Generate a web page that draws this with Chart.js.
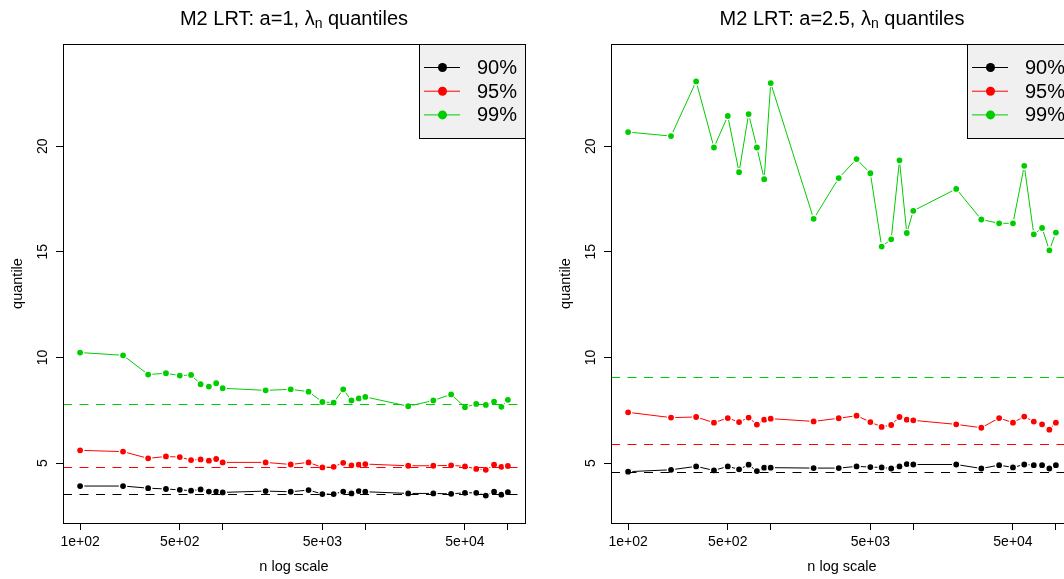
<!DOCTYPE html>
<html>
<head>
<meta charset="utf-8">
<script src="https://cdn.jsdelivr.net/npm/chart.js@4.4.0/dist/chart.umd.min.js"></script>
<style>
  html, body { margin: 0; padding: 0; width: 1064px; height: 579px; overflow: hidden; background: #fff; }
  .panel { position: absolute; top: 0; width: 548px; height: 579px; }
</style>
</head>
<body>
<div class="panel" style="left:0"><canvas id="c1" width="548" height="579"></canvas></div>
<div class="panel" style="left:548px"><canvas id="c2" width="548" height="579"></canvas></div>
<script>
// Sample sizes (log x axis)
const nValues = [100, 200, 300, 400, 500, 600, 700, 800, 900, 1000,
                 2000, 3000, 4000, 5000, 6000, 7000, 8000, 9000, 10000,
                 20000, 30000, 40000, 50000, 60000, 70000, 80000, 90000, 100000];

// a = 1: empirical quantiles of lambda_n
const q90_a1 = [3.91, 3.91, 3.81, 3.77, 3.73, 3.69, 3.75, 3.65, 3.65, 3.61,
                3.67, 3.64, 3.72, 3.53, 3.53, 3.65, 3.56, 3.67, 3.64,
                3.56, 3.56, 3.54, 3.59, 3.59, 3.46, 3.64, 3.50, 3.62];
const q95_a1 = [5.60, 5.54, 5.22, 5.31, 5.28, 5.14, 5.17, 5.11, 5.19, 5.03,
                5.03, 4.93, 5.03, 4.79, 4.82, 5.01, 4.89, 4.92, 4.95,
                4.87, 4.87, 4.89, 4.84, 4.72, 4.68, 4.92, 4.82, 4.86];
const q99_a1 = [10.23, 10.10, 9.19, 9.25, 9.14, 9.17, 8.73, 8.62, 8.78, 8.54,
                8.44, 8.49, 8.38, 7.89, 7.86, 8.49, 7.96, 8.06, 8.13,
                7.69, 7.96, 8.25, 7.64, 7.80, 7.75, 7.91, 7.66, 7.99];

// a = 2.5: empirical quantiles of lambda_n
const q90_a25 = [4.59, 4.68, 4.84, 4.65, 4.84, 4.70, 4.92, 4.62, 4.78, 4.78,
                 4.76, 4.76, 4.84, 4.81, 4.79, 4.74, 4.84, 4.95, 4.93,
                 4.93, 4.74, 4.90, 4.79, 4.93, 4.90, 4.90, 4.74, 4.90];
const q95_a25 = [7.40, 7.15, 7.18, 6.91, 7.13, 6.94, 7.15, 6.82, 7.05, 7.10,
                 6.97, 7.12, 7.24, 6.94, 6.71, 6.80, 7.18, 7.05, 7.02,
                 6.83, 6.67, 7.13, 6.91, 7.20, 6.96, 6.83, 6.58, 6.91];
const q99_a25 = [20.67, 20.48, 23.07, 19.94, 21.43, 18.77, 21.52, 19.94, 18.44, 22.99,
                 16.56, 18.49, 19.39, 18.72, 15.25, 15.59, 19.33, 15.89, 16.94,
                 17.98, 16.53, 16.35, 16.35, 19.07, 15.83, 16.13, 15.07, 15.91];

// Asymptotic reference quantiles (dashed lines): 90%, 95%, 99%
const ref_a1 = [3.54, 4.79, 7.81];
const ref_a25 = [4.59, 5.92, 9.05];

// Axis ticks and labels
const xTickValues = [100, 500, 1000, 5000, 10000, 50000, 100000];
const xTickLabels = ['1e+02', '5e+02', '', '5e+03', '', '5e+04', ''];
const yTickValues = [5, 10, 15, 20];
const seriesLabels = ['90%', '95%', '99%'];
const seriesColors = ['#000000', '#ff0000', '#00cd00'];

const FONT = "'Liberation Sans', Arial, Helvetica, sans-serif";

function decorPlugin(titleHead, refs) {
  return {
    id: 'decor',
    afterDatasetsDraw(chart) {
      const { ctx, chartArea: a, scales: { y } } = chart;
      ctx.save();
      ctx.beginPath();
      ctx.rect(a.left, a.top, a.right - a.left, a.bottom - a.top);
      ctx.clip();
      ctx.setLineDash([9, 7.5]);
      ctx.lineWidth = 1.2;
      refs.forEach((v, i) => {
        const py = Math.round(y.getPixelForValue(v)) + 0.5;
        ctx.strokeStyle = seriesColors[i];
        ctx.beginPath();
        ctx.moveTo(a.left, py);
        ctx.lineTo(a.right, py);
        ctx.stroke();
      });
      ctx.restore();
    },
    afterDraw(chart) {
      const { ctx, chartArea: a, scales: { y } } = chart;
      ctx.save();
      // plot frame
      ctx.strokeStyle = '#000';
      ctx.lineWidth = 1;
      ctx.strokeRect(a.left + 0.5, a.top + 0.5, a.right - a.left, a.bottom - a.top);

      // y tick labels, parallel to the axis
      ctx.fillStyle = '#000';
      ctx.font = '14px ' + FONT;
      ctx.textAlign = 'center';
      ctx.textBaseline = 'middle';
      yTickValues.forEach(v => {
        ctx.save();
        ctx.translate(a.left - 20, y.getPixelForValue(v));
        ctx.rotate(-Math.PI / 2);
        ctx.fillText(String(v), 0, 0);
        ctx.restore();
      });

      // axis titles
      ctx.font = '14.5px ' + FONT;
      ctx.save();
      ctx.translate(18, (a.top + a.bottom) / 2);
      ctx.rotate(-Math.PI / 2);
      ctx.fillText('quantile', 0, 0);
      ctx.restore();
      ctx.fillText('n log scale', (a.left + a.right) / 2, 567);

      // main title with subscript n
      const big = '20px ' + FONT, small = '14px ' + FONT;
      ctx.font = big;
      const w1 = ctx.measureText(titleHead).width;
      const w3 = ctx.measureText(' quantiles').width;
      ctx.font = small;
      const w2 = ctx.measureText('n').width;
      let tx = (a.left + a.right) / 2 - (w1 + w2 + w3) / 2;
      const ty = 25;
      ctx.textAlign = 'left';
      ctx.textBaseline = 'alphabetic';
      ctx.font = big;
      ctx.fillText(titleHead, tx, ty);
      tx += w1;
      ctx.font = small;
      ctx.fillText('n', tx, ty + 3);
      tx += w2;
      ctx.font = big;
      ctx.fillText(' quantiles', tx, ty);

      // legend
      const lw = 106, lh = 94;
      const lx = a.right - lw, ly = a.top;
      ctx.fillStyle = '#f0f0f0';
      ctx.fillRect(lx, ly, lw, lh);
      ctx.strokeStyle = '#000';
      ctx.strokeRect(lx + 0.5, ly + 0.5, lw, lh);
      ctx.font = '20px ' + FONT;
      ctx.textBaseline = 'middle';
      seriesLabels.forEach((lab, i) => {
        const ry = ly + 23.5 + i * 23.7;
        ctx.strokeStyle = seriesColors[i];
        ctx.beginPath();
        ctx.moveTo(lx + 5, ry);
        ctx.lineTo(lx + 41, ry);
        ctx.stroke();
        ctx.fillStyle = seriesColors[i];
        ctx.beginPath();
        ctx.arc(lx + 23.5, ry, 4.5, 0, Math.PI * 2);
        ctx.fill();
        ctx.fillStyle = '#000';
        ctx.fillText(lab, lx + 58, ry + 1);
      });
      ctx.restore();
    }
  };
}

function makeDataset(vals, i) {
  const c = seriesColors[i];
  return {
    label: seriesLabels[i],
    data: nValues.map((n, k) => ({ x: n, y: vals[k] })),
    borderColor: c,
    backgroundColor: c,
    pointBackgroundColor: c,
    pointBorderColor: '#ffffff',
    pointBorderWidth: 1.4,
    pointRadius: 3.6,
    borderWidth: 1,
    tension: 0,
    fill: false
  };
}

function makeChart(id, series, refs, titleHead) {
  return new Chart(document.getElementById(id), {
    type: 'line',
    data: { datasets: series.map((s, i) => makeDataset(s, i)) },
    options: {
      responsive: false,
      animation: false,
      events: [],
      layout: { padding: { top: 44, right: 23, left: 0, bottom: 0 } },
      plugins: { legend: { display: false }, title: { display: false }, tooltip: { enabled: false } },
      scales: {
        x: {
          type: 'logarithmic',
          min: Math.pow(10, 1.88),
          max: Math.pow(10, 5.12),
          afterBuildTicks: s => { s.ticks = xTickValues.map(v => ({ value: v })); },
          ticks: {
            autoSkip: false, minRotation: 0, maxRotation: 0, padding: 4,
            color: '#000', font: { family: FONT, size: 14 },
            callback: (v, idx) => xTickLabels[idx]
          },
          grid: { drawOnChartArea: false, drawTicks: true, tickLength: 7, color: '#000', lineWidth: 1 },
          border: { display: false },
          afterFit: s => { s.height = 56; }
        },
        y: {
          type: 'linear',
          min: 2.16,
          max: 24.84,
          afterBuildTicks: s => { s.ticks = yTickValues.map(v => ({ value: v })); },
          ticks: { display: false },
          grid: { drawOnChartArea: false, drawTicks: true, tickLength: 7, color: '#000', lineWidth: 1 },
          border: { display: false },
          afterFit: s => { s.width = 63; }
        }
      }
    },
    plugins: [decorPlugin(titleHead, refs)]
  });
}

makeChart('c1', [q90_a1, q95_a1, q99_a1], ref_a1, 'M2 LRT: a=1, λ');
makeChart('c2', [q90_a25, q95_a25, q99_a25], ref_a25, 'M2 LRT: a=2.5, λ');
</script>
</body>
</html>
